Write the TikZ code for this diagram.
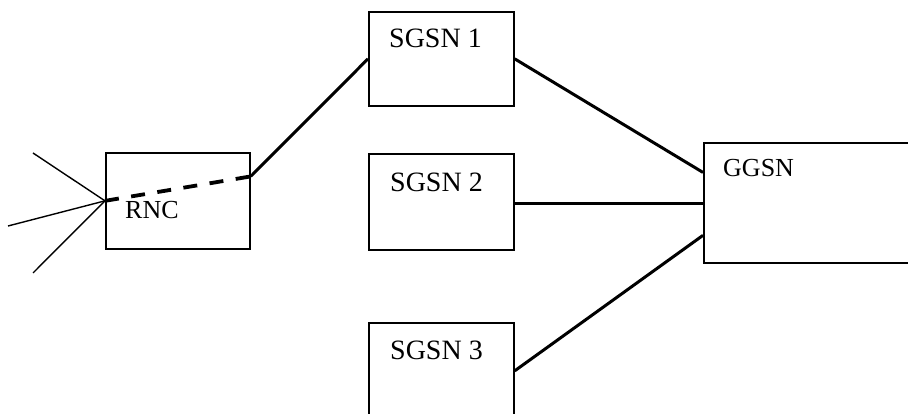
\documentclass[tikz,border=0pt]{standalone}
\usepackage{fontspec}
\setmainfont{Liberation Serif}
\usetikzlibrary{calc}
\begin{document}
\begin{tikzpicture}[x=1pt,y=-1pt,
  box/.style={draw,line width=1.7pt,rectangle,inner sep=0pt,anchor=north west},
  lbl/.style={anchor=base west,inner sep=0pt,font=\fontsize{26}{30}\selectfont},
  slbl/.style={anchor=base west,inner sep=0pt,font=\fontsize{28}{32}\selectfont},
  link/.style={line width=3pt},
  radio/.style={line width=1.4pt},
  dlink/.style={line width=3.8pt,dash pattern=on 14pt off 12.5pt}]
\useasboundingbox (0,0) rectangle (908,414);
\begin{scope}
\clip (0,0) rectangle (908,414);
\node[box,minimum width=144pt,minimum height=96pt] (rnc) at (105,152) {};
\node[box,minimum width=145pt,minimum height=94pt] (sgsn1) at (368,11) {};
\node[box,minimum width=145pt,minimum height=96pt] (sgsn2) at (368,153) {};
\node[box,minimum width=145pt,minimum height=96pt] (sgsn3) at (368,322) {};
\node[box,minimum width=215pt,minimum height=120pt] (ggsn) at (703,142) {};

\node[lbl] (trnc) at (125,219) {RNC};
\node[slbl] (t1) at (389,47.5) {SGSN 1};
\node[slbl] (t2) at (390,191.5) {SGSN 2};
\node[slbl] (t3) at (390,359) {SGSN 3};
\node[lbl] (tg) at (723,176.5) {GGSN};

\coordinate (a1) at (33,153);
\coordinate (a2) at (8,226);
\coordinate (a3) at (33,273);
\draw[radio] (rnc.west) -- (a1);
\draw[radio] (rnc.west) -- (a2);
\draw[radio] (rnc.west) -- (a3);

\coordinate (re) at ($(rnc.north east)!0.25!(rnc.south east)$);
\coordinate (s2e) at ($(sgsn2.east)+(0,2)$);
\coordinate (g2) at (s2e -| ggsn.west);
\draw[dlink] (rnc.west) -- (re);
\draw[link] (re) -- (sgsn1.west);
\draw[link] (sgsn1.east) -- ($(ggsn.north west)!0.25!(ggsn.south west)$);
\draw[link] (s2e) -- (g2);
\draw[link] (sgsn3.east) -- ($(ggsn.north west)!0.767!(ggsn.south west)$);
\end{scope}
\end{tikzpicture}
\end{document}
